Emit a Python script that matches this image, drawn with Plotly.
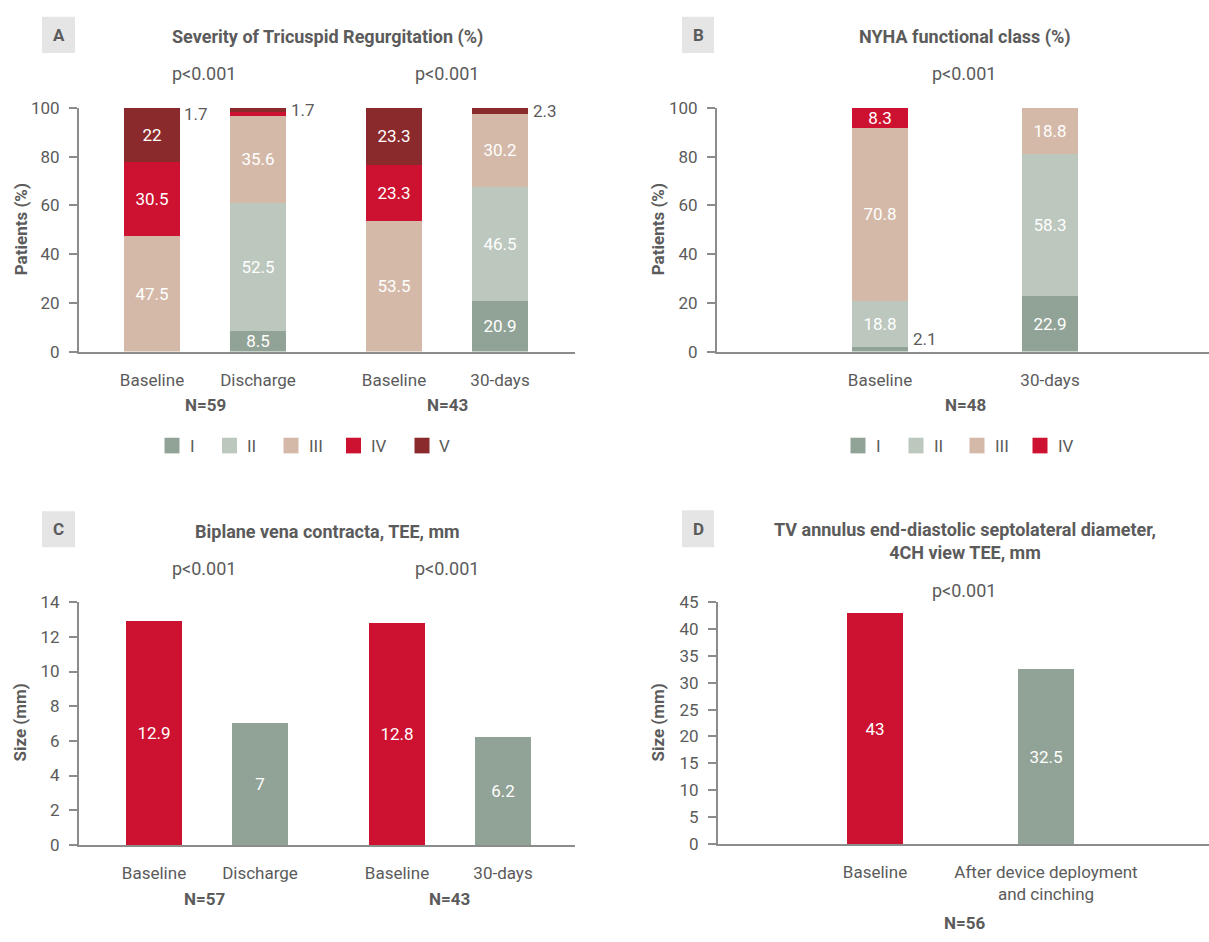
import plotly.graph_objects as go

W, H = 1209, 942

# ---------------- data ----------------
# Panel A: severity of tricuspid regurgitation (%)
tr_categories = ["Baseline", "Discharge", "Baseline", "30-days"]
tr_grades = ["I", "II", "III", "IV", "V"]
tr_I = [0, 8.5, 0, 20.9]
tr_II = [0, 52.5, 0, 46.5]
tr_III = [47.5, 35.6, 53.5, 30.2]
tr_IV = [30.5, 1.7, 23.3, 0]
tr_V = [22, 1.7, 23.3, 2.3]
tr_groups = ["N=59", "N=43"]
tr_pvalues = ["p<0.001", "p<0.001"]

# Panel B: NYHA functional class (%)
nyha_categories = ["Baseline", "30-days"]
nyha_classes = ["I", "II", "III", "IV"]
nyha_I = [2.1, 22.9]
nyha_II = [18.8, 58.3]
nyha_III = [70.8, 18.8]
nyha_IV = [8.3, 0]
nyha_groups = ["N=48"]
nyha_pvalues = ["p<0.001"]

# Panel C: biplane vena contracta, TEE (mm)
vc_categories = ["Baseline", "Discharge", "Baseline", "30-days"]
vc_values = [12.9, 7, 12.8, 6.2]
vc_groups = ["N=57", "N=43"]
vc_pvalues = ["p<0.001", "p<0.001"]

# Panel D: TV annulus septolateral diameter (mm)
ann_categories = ["Baseline", "After device deployment<br>and cinching"]
ann_values = [43, 32.5]
ann_groups = ["N=56"]
ann_pvalues = ["p<0.001"]

# ---------------- style ----------------
FONT = "Roboto, 'Open Sans', sans-serif"
TXT = "#5b5b5b"
AXIS = "#8c8c8c"
C_I = "#91a396"
C_II = "#bcc7be"
C_III = "#d4b9a8"
C_IV = "#cd1130"
C_V = "#8b2a2d"
grade_colors = {"I": C_I, "II": C_II, "III": C_III, "IV": C_IV, "V": C_V}
BAR_W = 56


def px_x(v):
    return v / W


def px_y(v):
    return 1 - v / H


fig = go.Figure()
annotations = []
shapes = []


def seg_text(v):
    return "" if v < 3 else f"{v:g}"


# ---- axes geometry (pixel extents of each plotting area) ----
panels = {
    "A": dict(x0=79, x1=575, y0=100, y1=349, pos=[73, 179, 315, 421]),
    "B": dict(x0=717, x1=1209, y0=100, y1=349, pos=[163, 333]),
    "C": dict(x0=79, x1=575, y0=605, y1=853, pos=[75, 181, 318, 424]),
    "D": dict(x0=718, x1=1209, y0=605, y1=852, pos=[157, 328]),
}
axis_ids = {"A": ("x", "y"), "B": ("x2", "y2"), "C": ("x3", "y3"), "D": ("x4", "y4")}

# ---- panel A: stacked bars ----
posA = panels["A"]["pos"]
tr_series = {"I": tr_I, "II": tr_II, "III": tr_III, "IV": tr_IV, "V": tr_V}
for g in tr_grades:
    vals = tr_series[g]
    fig.add_trace(go.Bar(
        x=posA, y=vals, width=BAR_W, name=g,
        marker=dict(color=grade_colors[g], line=dict(width=0)),
        text=[seg_text(v) for v in vals], textposition="inside",
        insidetextanchor="middle", textangle=0,
        textfont=dict(color="white", size=17, family=FONT),
        xaxis="x", yaxis="y", showlegend=False, hoverinfo="skip",
    ))


# small segments labelled beside the bar
def side_label(xref, yref, xc, base, v, side):
    annotations.append(dict(
        x=xc + (BAR_W / 2 if side == "right" else -BAR_W / 2),
        y=base + v / 2, xref=xref, yref=yref, text=f"{v:g}",
        showarrow=False, xanchor="left" if side == "right" else "right",
        xshift=3 if side == "right" else -20,
        font=dict(size=17, color=TXT, family=FONT),
    ))


for i, xc in enumerate(posA):
    base = 0
    for g in tr_grades:
        v = tr_series[g][i]
        if 0 < v < 3:
            side = "left" if (g == "IV" and 0 < tr_V[i] < 3) else "right"
            side_label("x", "y", xc, base, v, side)
        base += v

# ---- panel B: stacked bars ----
posB = panels["B"]["pos"]
nyha_series = {"I": nyha_I, "II": nyha_II, "III": nyha_III, "IV": nyha_IV}
for g in nyha_classes:
    vals = nyha_series[g]
    fig.add_trace(go.Bar(
        x=posB, y=vals, width=BAR_W, name=g,
        marker=dict(color=grade_colors[g], line=dict(width=0)),
        text=[seg_text(v) for v in vals], textposition="inside",
        insidetextanchor="middle", textangle=0,
        textfont=dict(color="white", size=17, family=FONT),
        xaxis="x2", yaxis="y2", showlegend=False, hoverinfo="skip",
    ))
for i, xc in enumerate(posB):
    base = 0
    for g in nyha_classes:
        v = nyha_series[g][i]
        if 0 < v < 3:
            annotations.append(dict(
                x=xc + BAR_W / 2, y=base, xref="x2", yref="y2", text=f"{v:g}",
                showarrow=False, xanchor="left", yanchor="bottom", xshift=3, yshift=1,
                font=dict(size=17, color=TXT, family=FONT),
            ))
        base += v

# ---- panel C: simple bars ----
vc_colors = [C_IV if c == "Baseline" else C_I for c in vc_categories]
fig.add_trace(go.Bar(
    x=panels["C"]["pos"], y=vc_values, width=BAR_W,
    marker=dict(color=vc_colors, line=dict(width=0)),
    text=[f"{v:g}" for v in vc_values], textposition="inside",
    insidetextanchor="middle", textangle=0,
    textfont=dict(color="white", size=17, family=FONT),
    xaxis="x3", yaxis="y3", showlegend=False, hoverinfo="skip",
))

# ---- panel D: simple bars ----
ann_colors = [C_IV if c == "Baseline" else C_I for c in ann_categories]
fig.add_trace(go.Bar(
    x=panels["D"]["pos"], y=ann_values, width=BAR_W,
    marker=dict(color=ann_colors, line=dict(width=0)),
    text=[f"{v:g}" for v in ann_values], textposition="inside",
    insidetextanchor="middle", textangle=0,
    textfont=dict(color="white", size=17, family=FONT),
    xaxis="x4", yaxis="y4", showlegend=False, hoverinfo="skip",
))

# ---- axes ----
y_ranges = {"A": (100, 20), "B": (100, 20), "C": (14, 2), "D": (45, 5)}
x_labels = {"A": tr_categories, "B": nyha_categories, "C": vc_categories, "D": ann_categories}
layout_axes = {}
for key, p in panels.items():
    xa, ya = axis_ids[key]
    xname = "xaxis" + xa[1:]
    yname = "yaxis" + ya[1:]
    top, step = y_ranges[key]
    layout_axes[xname] = dict(
        domain=[px_x(p["x0"]), px_x(p["x1"])], anchor=ya,
        range=[0, p["x1"] - p["x0"]], showline=True, linecolor=AXIS, linewidth=2,
        showgrid=False, zeroline=False, ticks="",
        tickmode="array", tickvals=p["pos"], ticktext=x_labels[key],
        tickfont=dict(size=17, color=TXT, family=FONT), ticklabelstandoff=12,
        fixedrange=True,
    )
    layout_axes[yname] = dict(
        domain=[px_y(p["y1"]), px_y(p["y0"])], anchor=xa,
        range=[0, top], dtick=step, tick0=0, showline=True, linecolor=AXIS,
        linewidth=2, ticks="outside", ticklen=8, tickwidth=2, tickcolor=AXIS,
        showgrid=False, zeroline=False,
        tickfont=dict(size=17, color=TXT, family=FONT), ticklabelstandoff=6,
        fixedrange=True,
    )


# ---- text helpers ----
def text_px(x, y, s, size=17, bold=False, angle=0, color=TXT, xanchor="center"):
    annotations.append(dict(
        x=px_x(x), y=px_y(y), xref="paper", yref="paper", text=s,
        showarrow=False, xanchor=xanchor, yanchor="middle", textangle=angle,
        font=dict(size=size, color=color, family=FONT, weight="bold" if bold else "normal"),
    ))


def letter_box(x0, x1, y0, y1, letter):
    shapes.append(dict(type="rect", xref="paper", yref="paper",
                       x0=px_x(x0), x1=px_x(x1), y0=px_y(y1), y1=px_y(y0),
                       fillcolor="#e5e5e5", line=dict(width=0), layer="below"))
    text_px((x0 + x1) / 2, (y0 + y1) / 2, letter, size=17, bold=True)


def legend_row(items, colors, centers, y):
    for name, col, cx in zip(items, colors, centers):
        shapes.append(dict(type="rect", xref="paper", yref="paper",
                           x0=px_x(cx - 7.5), x1=px_x(cx + 7.5),
                           y0=px_y(y + 8), y1=px_y(y - 8),
                           fillcolor=col, line=dict(width=0)))
        text_px(cx + 15.5, y, name, xanchor="left")


TITLE_SIZE = 18

# panel A decorations
letter_box(42, 75, 7, 44, "A")
text_px(327, 28, "Severity of Tricuspid Regurgitation (%)", size=TITLE_SIZE, bold=True)
for s, cx in zip(tr_pvalues, [204, 447]):
    text_px(cx, 65, s, size=18)
for s, cx in zip(tr_groups, [205, 447]):
    text_px(cx, 404, s, bold=True)
text_px(21, 224, "Patients (%)", bold=True, angle=-90)
legend_row(tr_grades, [grade_colors[g] for g in tr_grades],
           [172, 229.5, 291, 353.5, 422], 445)

# panel B decorations
letter_box(682, 714, 7, 44, "B")
text_px(965, 28, "NYHA functional class (%)", size=TITLE_SIZE, bold=True)
text_px(964, 65, nyha_pvalues[0], size=18)
text_px(965, 404, nyha_groups[0], bold=True)
text_px(658, 224, "Patients (%)", bold=True, angle=-90)
legend_row(nyha_classes, [grade_colors[g] for g in nyha_classes],
           [858, 916, 977, 1040], 445)

# panel C decorations
letter_box(42, 75, 512, 549, "C")
text_px(327, 533, "Biplane vena contracta, TEE, mm", size=TITLE_SIZE, bold=True)
for s, cx in zip(vc_pvalues, [204, 447]):
    text_px(cx, 571, s, size=18)
for s, cx in zip(vc_groups, [205, 449]):
    text_px(cx, 908, s, bold=True)
text_px(20, 728, "Size (mm)", bold=True, angle=-90)

# panel D decorations
letter_box(682, 714, 511, 549, "D")
text_px(965, 543, "TV annulus end-diastolic septolateral diameter,<br>4CH view TEE, mm",
        size=TITLE_SIZE, bold=True)
text_px(964, 593, ann_pvalues[0], size=18)
text_px(965, 933, ann_groups[0], bold=True)
text_px(658, 728, "Size (mm)", bold=True, angle=-90)

fig.update_layout(
    width=W, height=H, margin=dict(l=0, r=0, t=0, b=0),
    paper_bgcolor="white", plot_bgcolor="white",
    barmode="stack", bargap=0,
    uniformtext=dict(minsize=17, mode="show"),
    font=dict(family=FONT, color=TXT, size=17),
    annotations=annotations, shapes=shapes,
    **layout_axes,
)

fig.write_html("out.html", config={"displayModeBar": False})
